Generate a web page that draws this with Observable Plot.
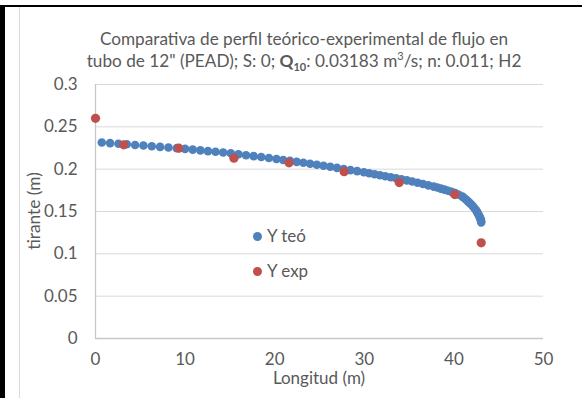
<!DOCTYPE html>
<html>
<head>
<meta charset="utf-8">
<script src="https://cdn.jsdelivr.net/npm/d3@7"></script>
<script src="https://cdn.jsdelivr.net/npm/@observablehq/plot@0.6"></script>
<style>
  html, body { margin:0; padding:0; background:#fff; }
  #wrap { position:relative; width:582px; height:398px; overflow:hidden; font-family:Lato, "Open Sans", sans-serif; color:#595959; }
  #wrap svg { position:absolute; left:0; top:0; }
  .frameL { position:absolute; left:0; top:5px; width:5px; height:393px; background:#000; }
  .frameT { position:absolute; left:0; top:5px; width:582px; height:2px; background:#000; }
  .chartL { position:absolute; left:19px; top:7px; width:1px; height:391px; background:#d9d9d9; }
  #title { position:absolute; left:0; width:582px; top:28px; text-align:center; font-size:17.2px; line-height:22px; padding-left:26px; box-sizing:border-box; white-space:nowrap; }
  #title sub, #title sup { font-size:11px; line-height:0; }
  #xlabel { position:absolute; left:95px; width:448px; top:371px; text-align:center; font-size:17px; line-height:14px; }
  #ylabel { position:absolute; left:33px; top:211px; transform:translate(-50%,-50%) rotate(-90deg); font-size:17.3px; line-height:21px; white-space:nowrap; }
  .leg { position:absolute; left:267px; font-size:17px; line-height:20px; white-space:nowrap; }
  .legdot { position:absolute; width:9px; height:9px; border-radius:50%; }
</style>
</head>
<body>
<div id="wrap">
  <div class="frameL"></div><div class="frameT"></div><div class="chartL"></div>
  <div id="title">Comparativa de perfil teórico-experimental de flujo en<br>tubo de 12" (PEAD); S: 0; <b>Q<sub>10</sub></b>: 0.03183 m<sup>3</sup>/s; n: 0.011; H2</div>
  <div id="xlabel">Longitud (m)</div>
  <div id="ylabel">tirante (m)</div>
  <div class="legdot" style="left:253px; top:231.5px; background:#4F81BD"></div>
  <div class="leg" style="top:226px">Y teó</div>
  <div class="legdot" style="left:253px; top:267px; background:#C0504D"></div>
  <div class="leg" style="top:261px">Y exp</div>
</div>
<script>
// Theoretical profile (Y teó)
const xTeo = [0.7,1.63,2.56,3.49,4.42,5.35,6.28,7.21,8.14,9.07,10.0,
  10.85,11.7,12.55,13.4,14.25,15.1,15.95,16.8,17.65,18.5,19.35,20.2,
  20.95,21.7,22.45,23.2,23.95,24.7,25.45,26.2,26.95,27.7,28.45,29.2,29.95,
  30.55,31.15,31.75,32.35,32.95,33.55,34.15,34.75,35.35,35.95,36.55,37.15,37.75,
  38.15,38.55,38.95,39.35,39.75,40.15,40.55,40.95,
  41.15,41.35,41.55,41.75,41.95,42.15,42.35,42.5,
  42.6,42.7,42.8,42.88,42.95,43.0,43.03,43.05];
const yTeo = [0.2315,0.2308,0.2301,0.2294,0.2286,0.2279,0.2271,0.2263,0.2256,0.2248,0.2240,
  0.2231,0.2222,0.2213,0.2205,0.2196,0.2187,0.2176,0.2165,0.2154,0.2143,0.2132,0.2120,
  0.2109,0.2098,0.2086,0.2075,0.2064,0.2053,0.2040,0.2028,0.2015,0.2002,0.1989,0.1977,0.1964,
  0.1952,0.1940,0.1928,0.1916,0.1904,0.1892,0.1880,0.1868,0.1854,0.1839,0.1824,0.1809,0.1794,
  0.1783,0.1770,0.1758,0.1745,0.1732,0.1717,0.1697,0.1676,
  0.1660,0.1642,0.1622,0.1602,0.1582,0.1558,0.1532,0.1512,
  0.1492,0.1472,0.1452,0.1434,0.1418,0.1405,0.1390,0.1372];
// Experimental (Y exp)
const xExp = [0, 3.15, 9.3, 15.45, 21.6, 27.75, 33.9, 40.1, 43.05];
const yExp = [0.260, 0.2288, 0.2248, 0.2130, 0.2075, 0.1970, 0.1842, 0.1700, 0.1130];
// Ticks
const xTicks = [0, 10, 20, 30, 40, 50];
const yTicks = [0, 0.05, 0.1, 0.15, 0.2, 0.25, 0.3];

const teo = xTeo.map((x, i) => ({x, y: yTeo[i]}));
const exp = xExp.map((x, i) => ({x, y: yExp[i]}));

const chart = Plot.plot({
  width: 582, height: 398,
  marginLeft: 95, marginRight: 39, marginTop: 84, marginBottom: 60,
  style: {fontFamily: "Lato, 'Open Sans', sans-serif", fontSize: "17px", color: "#595959", background: "transparent", overflow: "visible"},
  x: {domain: [0, 50]},
  y: {domain: [0, 0.3]},
  marks: [
    Plot.gridY(yTicks, {stroke: "#d9d9d9", strokeOpacity: 1, strokeWidth: 1}),
    Plot.ruleX([0], {stroke: "#c8c8c8", strokeWidth: 1.3}),
    Plot.ruleY([0], {stroke: "#c8c8c8", strokeWidth: 1.3}),
    Plot.axisX(xTicks, {tickSize: 0, tickPadding: 14.5, label: null, fill: "#595959", fontSize: 17}),
    Plot.axisY(yTicks, {tickSize: 0, tickPadding: 18, label: null, fill: "#595959", fontSize: 17, tickFormat: d => String(d)}),
    Plot.dot(teo, {x: "x", y: "y", r: 4.3, fill: "#4F81BD", stroke: "none"}),
    Plot.dot(exp, {x: "x", y: "y", r: 4.6, fill: "#C0504D", stroke: "none"})
  ]
});
document.getElementById("wrap").prepend(chart);
</script>
</body>
</html>
